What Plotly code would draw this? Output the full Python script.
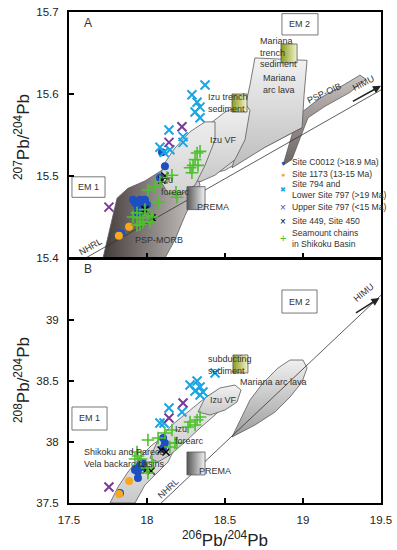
import plotly.graph_objects as go

FONT = "Liberation Sans"

# ---------------- DATA: panel A (207Pb/204Pb vs 206Pb/204Pb) ----------------
a_c0012_x = [18.096, 18.115, 18.083, 17.923, 17.955, 17.987, 18.0, 17.942, 17.955, 17.910, 17.974, 17.942, 17.833]
a_c0012_y = [15.529, 15.512, 15.498, 15.467, 15.471, 15.471, 15.465, 15.462, 15.456, 15.471, 15.467, 15.455, 15.430]
a_1173_x = [17.885, 17.820]
a_1173_y = [15.438, 15.427]
a_794_x = [18.372, 18.288, 18.321, 18.340, 18.308, 18.340, 18.141, 18.231, 18.231, 18.083, 18.147, 18.109]
a_794_y = [15.611, 15.599, 15.590, 15.584, 15.578, 15.571, 15.556, 15.548, 15.541, 15.535, 15.532, 15.529]
a_797u_x = [18.224, 18.141, 17.756]
a_797u_y = [15.560, 15.541, 15.462]
a_449_x = [18.115, 18.096, 17.987, 18.032]
a_449_y = [15.500, 15.495, 15.459, 15.449]
a_smt_x = [18.321, 18.340, 18.295, 18.327, 18.276, 18.308, 18.288, 18.006, 18.051, 18.083, 18.128, 18.160,
           18.186, 18.192, 18.071, 17.910, 17.936, 17.955, 17.974, 18.006, 18.032, 17.955, 17.987, 18.019, 17.936]
a_smt_y = [15.528, 15.530, 15.513, 15.513, 15.510, 15.520, 15.504, 15.483, 15.487, 15.493, 15.498, 15.501,
           15.480, 15.474, 15.468, 15.450, 15.455, 15.449, 15.444, 15.452, 15.450, 15.441, 15.459, 15.444, 15.440]

# ---------------- DATA: panel B (208Pb/204Pb vs 206Pb/204Pb) ----------------
b_c0012_x = [18.103, 18.115, 18.103, 17.936, 17.955, 17.974, 17.942, 17.923, 17.942, 17.974, 17.827]
b_c0012_y = [38.033, 37.992, 37.951, 37.787, 37.811, 37.795, 37.754, 37.770, 37.705, 37.828, 37.582]
b_1173_x = [17.885, 17.821]
b_1173_y = [37.680, 37.574]
b_794_x = [18.436, 18.276, 18.321, 18.340, 18.308, 18.359, 18.340, 18.141, 18.224, 18.083, 18.109]
b_794_y = [38.566, 38.467, 38.500, 38.451, 38.418, 38.410, 38.385, 38.279, 38.246, 38.156, 38.156]
b_797u_x = [18.231, 18.141, 17.756]
b_797u_y = [38.320, 38.197, 37.631]
b_449_x = [18.090, 18.122, 17.994, 18.026]
b_449_y = [37.934, 37.918, 37.770, 37.762]
b_smt_x = [18.263, 18.276, 18.321, 18.340, 18.308, 18.192, 18.147, 18.071, 18.006, 18.115, 18.160, 18.179,
           17.936, 17.942, 17.923, 17.962, 18.032, 18.000, 18.006]
b_smt_y = [38.123, 38.164, 38.180, 38.205, 38.139, 37.992, 37.959, 38.033, 38.016, 38.074, 38.098, 37.992,
           37.918, 37.885, 37.861, 37.861, 37.836, 37.787, 37.746]

# ---------------- reference fields (data units) ----------------
a_morb_x = [17.718, 17.808, 17.878, 17.987, 18.096, 18.212, 18.308, 18.340, 18.244, 18.179, 18.115]
a_morb_y = [15.400, 15.473, 15.485, 15.494, 15.507, 15.520, 15.507, 15.489, 15.452, 15.422, 15.400]
a_band_x = [18.340, 18.500, 18.724, 18.994, 18.724, 18.468, 18.340]
a_band_y = [15.500, 15.507, 15.532, 15.559, 15.541, 15.512, 15.493]
a_izuvf_x = [18.263, 18.276, 18.372, 18.500, 18.628, 18.660, 18.628, 18.564, 18.436, 18.340]
a_izuvf_y = [15.498, 15.532, 15.559, 15.578, 15.589, 15.580, 15.544, 15.520, 15.501, 15.493]
a_izufa_x = [18.083, 18.103, 18.179, 18.276, 18.372, 18.436, 18.436, 18.372, 18.308, 18.212, 18.135]
a_izufa_y = [15.495, 15.513, 15.534, 15.554, 15.566, 15.566, 15.544, 15.513, 15.489, 15.477, 15.479]
a_mar_x = [18.692, 19.026, 19.007, 18.994, 18.756, 18.545, 18.596, 18.615, 18.660]
a_mar_y = [15.644, 15.641, 15.599, 15.559, 15.535, 15.510, 15.544, 15.572, 15.611]
a_oib_x = [18.872, 18.929, 18.994, 19.109, 19.269, 19.365, 19.404, 19.301, 19.141, 19.032, 18.981, 18.929]
a_oib_y = [15.513, 15.550, 15.578, 15.595, 15.612, 15.623, 15.618, 15.602, 15.585, 15.571, 15.546, 15.520]

b_bab_x = [17.763, 17.814, 17.878, 17.955, 18.032, 18.103, 18.160, 18.179, 18.135, 18.071, 17.987, 17.923]
b_bab_y = [37.500, 37.631, 37.754, 37.877, 37.975, 38.041, 38.074, 37.951, 37.836, 37.754, 37.648, 37.500]
b_izufa_x = [18.019, 18.071, 18.160, 18.276, 18.372, 18.455, 18.519, 18.519, 18.436, 18.340, 18.244, 18.147, 18.071]
b_izufa_y = [37.869, 38.016, 38.139, 38.262, 38.361, 38.426, 38.410, 38.328, 38.221, 38.115, 38.000, 37.893, 37.836]
b_izuvf_x = [18.327, 18.372, 18.468, 18.564, 18.603, 18.577, 18.500, 18.404]
b_izuvf_y = [38.246, 38.361, 38.443, 38.467, 38.426, 38.328, 38.262, 38.221]
b_mar_x = [18.545, 18.596, 18.660, 18.744, 18.840, 18.917, 19.000, 19.026, 18.994, 18.917, 18.821, 18.692]
b_mar_y = [38.041, 38.180, 38.344, 38.484, 38.607, 38.672, 38.672, 38.607, 38.492, 38.369, 38.246, 38.139]

# reference lines (NHRL) end points
a_nhrl_x = [17.57, 19.50]
a_nhrl_y = [15.396, 15.605]
b_nhrl_x = [18.08, 19.50]
b_nhrl_y = [37.487, 39.203]

# boxes [x0, x1, y0, y1]
a_em1 = [17.519, 17.731, 15.474, 15.499]
a_em2 = [18.865, 19.096, 15.672, 15.698]
a_msed = [18.859, 18.962, 15.638, 15.661]
a_ised = [18.545, 18.641, 15.578, 15.600]
a_prema = [18.256, 18.372, 15.459, 15.487]
b_em1 = [17.519, 17.744, 38.098, 38.287]
b_em2 = [18.865, 19.090, 39.057, 39.246]
b_sed = [18.551, 18.647, 38.566, 38.713]
b_prema = [18.256, 18.372, 37.730, 37.918]

x_ticks = [17.5, 18, 18.5, 19, 19.5]
a_yticks = [15.4, 15.5, 15.6, 15.7]
b_yticks = [37.5, 38, 38.5, 39]

C_BLUE = "#1d4fc0"
C_ORANGE = "#f7a81e"
C_CYAN = "#1aa5e2"
C_PURPLE = "#7a3a99"
C_GREEN = "#4dc12c"
EDGE = "#5a5a5a"

fig = go.Figure()


def field(xs, ys, xa, ya, grad, cs, lw=0.8):
    fig.add_trace(go.Scatter(
        x=xs + xs[:1], y=ys + ys[:1], xaxis=xa, yaxis=ya, mode="lines",
        fill="toself", fillgradient=dict(type=grad, colorscale=cs),
        line=dict(color=EDGE, width=lw), hoverinfo="skip", showlegend=False))


def box(b, xa, ya, grad=None, cs=None, edge="#555555"):
    xs = [b[0], b[1], b[1], b[0], b[0]]
    ys = [b[2], b[2], b[3], b[3], b[2]]
    kw = dict(fill="toself", fillcolor="white") if grad is None else dict(
        fill="toself", fillgradient=dict(type=grad, colorscale=cs))
    fig.add_trace(go.Scatter(x=xs, y=ys, xaxis=xa, yaxis=ya, mode="lines",
                             line=dict(color=edge, width=0.8), hoverinfo="skip",
                             showlegend=False, **kw))


DARK = [[0, "#433b39"], [1, "#cfcac8"]]
LIGHT = [[0, "#c9c9c9"], [1, "#f2f2f2"]]
OLIVE = [[0, "#8c9c1c"], [1, "#f2f3cf"]]
PREMA = [[0, "#555555"], [1, "#f4f4f4"]]

# ---- panel A fields
field(a_morb_x, a_morb_y, "x", "y", "horizontal", DARK)
field(a_oib_x, a_oib_y, "x", "y", "vertical", [[0, "#6c6462"], [1, "#c8c2c0"]])
field(a_band_x, a_band_y, "x", "y", "horizontal", [[0, "#e6e6e6"], [1, "#bdbdbd"]])
field(a_mar_x, a_mar_y, "x", "y", "vertical", [[0, "#bdbdbd"], [1, "#f2f2f2"]])
field(a_izuvf_x, a_izuvf_y, "x", "y", "vertical", LIGHT)
field(a_izufa_x, a_izufa_y, "x", "y", "vertical", [[0, "#d4d4d4"], [1, "#ececec"]])
fig.add_trace(go.Scatter(x=a_nhrl_x, y=a_nhrl_y, xaxis="x", yaxis="y", mode="lines",
                         line=dict(color="#333333", width=0.8), hoverinfo="skip", showlegend=False))
box(a_em1, "x", "y")
box(a_em2, "x", "y")
box(a_msed, "x", "y", "horizontal", OLIVE)
box(a_ised, "x", "y", "horizontal", OLIVE)
box(a_prema, "x", "y", "horizontal", PREMA)

# ---- panel B fields
field(b_bab_x, b_bab_y, "x2", "y2", "vertical", LIGHT)
field(b_izufa_x, b_izufa_y, "x2", "y2", "vertical", LIGHT)
field(b_izuvf_x, b_izuvf_y, "x2", "y2", "vertical", LIGHT)
field(b_mar_x, b_mar_y, "x2", "y2", "vertical", [[0, "#9c9c9c"], [1, "#f0f0f0"]])
fig.add_trace(go.Scatter(x=b_nhrl_x, y=b_nhrl_y, xaxis="x2", yaxis="y2", mode="lines",
                         line=dict(color="#333333", width=0.8), hoverinfo="skip", showlegend=False))
box(b_em1, "x2", "y2")
box(b_em2, "x2", "y2")
box(b_sed, "x2", "y2", "horizontal", OLIVE)
box(b_prema, "x2", "y2", "horizontal", PREMA)

# ---- data series
series = [
    ("Site C0012 (>18.9 Ma)", a_c0012_x, a_c0012_y, b_c0012_x, b_c0012_y,
     dict(symbol="circle", size=8, color=C_BLUE), "●", C_BLUE, 7),
    ("Site 1173 (13-15 Ma)", a_1173_x, a_1173_y, b_1173_x, b_1173_y,
     dict(symbol="circle", size=8, color=C_ORANGE), "●", C_ORANGE, 7),
    ("Site 794 and<br>Lower Site 797 (>19 Ma)", a_794_x, a_794_y, b_794_x, b_794_y,
     dict(symbol="x-thin", size=9, color=C_CYAN, line=dict(color=C_CYAN, width=2)), "✖", C_CYAN, 7),
    ("Upper Site 797 (<15 Ma)", a_797u_x, a_797u_y, b_797u_x, b_797u_y,
     dict(symbol="x-thin", size=9, color=C_PURPLE, line=dict(color=C_PURPLE, width=2)), "×", C_PURPLE, 10),
    ("Site 449, Site 450", a_449_x, a_449_y, b_449_x, b_449_y,
     dict(symbol="x-thin", size=7, color="black", line=dict(color="black", width=1.5)), "×", "black", 10),
    ("Seamount chains<br>in Shikoku Basin", a_smt_x, a_smt_y, b_smt_x, b_smt_y,
     dict(symbol="cross-thin", size=9, color=C_GREEN, line=dict(color=C_GREEN, width=1.6)), "+", C_GREEN, 11),
]
for name, ax_, ay_, bx_, by_, mk, *_ in series:
    fig.add_trace(go.Scatter(x=ax_, y=ay_, xaxis="x", yaxis="y", mode="markers", name=name,
                             marker=mk, legendgroup=name, showlegend=False))
    fig.add_trace(go.Scatter(x=bx_, y=by_, xaxis="x2", yaxis="y2", mode="markers", name=name,
                             marker=mk, legendgroup=name, showlegend=False))

ann = []
LS = 9


def lab(text, x, y, xr, yr, align="center", angle=0, xanchor="center", size=LS, color="#333333"):
    ann.append(dict(text=text, x=x, y=y, xref=xr, yref=yr, showarrow=False, textangle=angle,
                    align=align, xanchor=xanchor, yanchor="middle",
                    font=dict(family=FONT, size=size, color=color)))


# manual legend (key glyph + label), pixel rows of the reference legend
leg_rows = [162, 174, 189.5, 207, 221, 238.5]
for (name, *_rest), row in zip(series, leg_rows):
    glyph, gcol, gsize = _rest[-3], _rest[-2], _rest[-1]
    lab(glyph, 283 / 397, 1 - row / 550, "paper", "paper", size=gsize, color=gcol)
    lab(name, 290 / 397, 1 - row / 550, "paper", "paper", align="left", xanchor="left", size=8.6)

# panel A labels
lab("A", 17.62, 15.686, "x", "y", size=12)
lab("EM 1", 17.625, 15.4865, "x", "y")
lab("EM 2", 18.98, 15.685, "x", "y")
lab("Mariana<br>trench<br>sediment", 18.71, 15.651, "x", "y", align="left", xanchor="left")
lab("Mariana<br>arc lava", 18.73, 15.612, "x", "y", align="left", xanchor="left")
lab("Izu trench<br>sediment", 18.375, 15.589, "x", "y", align="left", xanchor="left")
lab("Izu VF", 18.49, 15.544, "x", "y")
lab("Izu<br>forearc", 18.08, 15.488, "x", "y", align="left", xanchor="left")
lab("PSP-MORB", 18.08, 15.422, "x", "y")
lab("PREMA", 18.425, 15.462, "x", "y")
lab("PSP-OIB", 19.14, 15.601, "x", "y", angle=-25)
lab("NHRL", 17.635, 15.414, "x", "y", angle=-30)
lab("HIMU", 19.39, 15.613, "x", "y", angle=-27)
# panel B labels
lab("B", 17.62, 39.42, "x2", "y2", size=12)
lab("EM 1", 17.63, 38.193, "x2", "y2")
lab("EM 2", 18.975, 39.15, "x2", "y2")
lab("subducting<br>sediment", 18.375, 38.63, "x2", "y2", align="left", xanchor="left")
lab("Mariana arc lava", 18.81, 38.492, "x2", "y2")
lab("Izu VF", 18.49, 38.344, "x2", "y2")
lab("Izu<br>forearc", 18.165, 38.057, "x2", "y2", align="left", xanchor="left")
lab("Shikoku and Parece<br>Vela backarc basins", 17.585, 37.87, "x2", "y2", align="left", xanchor="left")
lab("PREMA", 18.436, 37.762, "x2", "y2")
lab("NHRL", 18.14, 37.62, "x2", "y2", angle=-43)
lab("HIMU", 19.385, 39.225, "x2", "y2", angle=-40)

# HIMU arrows
ann.append(dict(x=19.5, y=15.610, ax=19.31, ay=15.590, xref="x", yref="y", axref="x", ayref="y",
                showarrow=True, arrowhead=2, arrowsize=1, arrowwidth=1.6, arrowcolor="#222222", text=""))
ann.append(dict(x=19.49, y=39.18, ax=19.33, ay=39.05, xref="x2", yref="y2", axref="x2", ayref="y2",
                showarrow=True, arrowhead=2, arrowsize=1, arrowwidth=1.6, arrowcolor="#222222", text=""))

# axis titles
TF = dict(family=FONT, size=17, color="#222")
ann.append(dict(text="<sup>207</sup>Pb/<sup>204</sup>Pb", x=22 / 397, y=1 - 137 / 550, xref="paper",
                yref="paper", showarrow=False, textangle=-90, xanchor="center", yanchor="middle", font=TF))
ann.append(dict(text="<sup>208</sup>Pb/<sup>204</sup>Pb", x=22 / 397, y=1 - 380 / 550, xref="paper",
                yref="paper", showarrow=False, textangle=-90, xanchor="center", yanchor="middle", font=TF))
ann.append(dict(text="<sup>206</sup>Pb/<sup>204</sup>Pb", x=225 / 397, y=1 - 539 / 550, xref="paper",
                yref="paper", showarrow=False, xanchor="center", yanchor="middle", font=TF))

AX = dict(showgrid=False, zeroline=False, showline=True, linecolor="black", linewidth=2, mirror=True,
          ticks="inside", ticklen=5, tickwidth=1.5, tickcolor="black", automargin=False,
          tickfont=dict(family=FONT, size=11.5, color="#222222"))
XD = [69 / 397, 381 / 397]
fig.update_layout(
    template="none",
    width=397, height=550, autosize=False, margin=dict(l=0, r=0, t=0, b=0, pad=0),
    paper_bgcolor="white", plot_bgcolor="white",
    xaxis=dict(AX, domain=XD, range=[17.5, 19.5], tickvals=x_ticks, showticklabels=False, anchor="y"),
    yaxis=dict(AX, domain=[1 - 258 / 550, 1 - 12 / 550], range=[15.4, 15.7], tickvals=a_yticks,
               ticktext=[str(v) for v in a_yticks], anchor="x", ticklabelstandoff=6),
    xaxis2=dict(AX, domain=XD, range=[17.5, 19.5], tickvals=x_ticks,
                ticktext=["17.5", "18", "18.5", "19", "19.5"], anchor="y2", ticklabelstandoff=5),
    yaxis2=dict(AX, domain=[1 - 503 / 550, 1 - 259 / 550], range=[37.5, 39.5], tickvals=b_yticks,
                ticktext=["37.5", "38", "38.5", "39"], anchor="x2", ticklabelstandoff=6),
    annotations=ann,
    showlegend=False,
)
fig.write_html("out.html", config={"displayModeBar": False},
               post_script="document.body.style.margin='0px';")
